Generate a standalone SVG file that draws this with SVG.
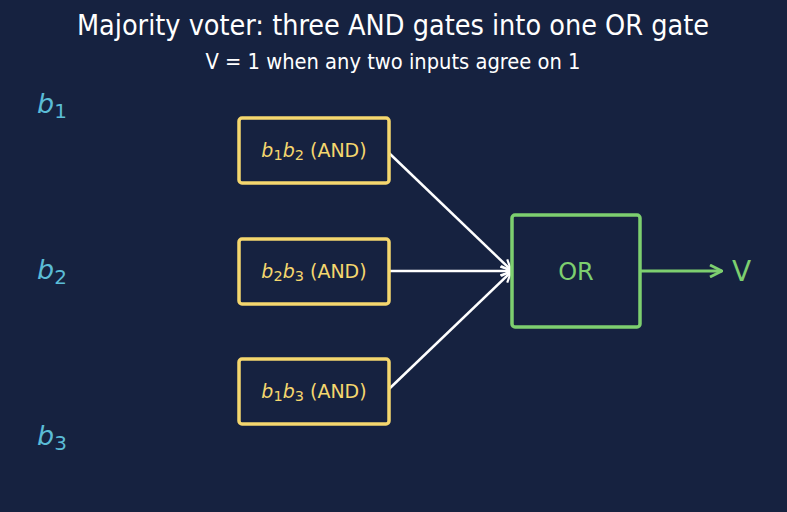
<svg xmlns="http://www.w3.org/2000/svg" width="787" height="512" viewBox="0 0 787 512">
<style>
text{font-family:"DejaVu Sans","Liberation Sans",sans-serif}
.t{fill:#ffffff;text-anchor:middle;font-family:"DejaVu Sans Condensed","DejaVu Sans",sans-serif}
.in{fill:#5bbcd6;font-size:27px;font-style:italic}
.in tspan.s{font-style:normal;font-size:20px}
.and rect{fill:none;stroke:#f5d76e;stroke-width:3.5}
.and text{fill:#f5d76e;font-size:19px;text-anchor:middle}
.it{font-style:italic}
.sub{font-size:14.5px}
.c{stroke:#ffffff;stroke-width:2.5;fill:none}
</style>
<defs>
<marker id="aw" viewBox="0 0 12 12" refX="11" refY="6" markerWidth="12" markerHeight="12" markerUnits="userSpaceOnUse" orient="auto"><path d="M1,1 L11,6 L1,11" fill="none" stroke="#ffffff" stroke-width="2.2"/></marker>
<marker id="ag" viewBox="0 0 14 14" refX="13" refY="7" markerWidth="14" markerHeight="14" markerUnits="userSpaceOnUse" orient="auto"><path d="M1,1 L13,7 L1,13" fill="none" stroke="#7dcf6f" stroke-width="2.8"/></marker>
</defs>
<rect width="787" height="512" fill="#162240"/>
<text class="t" x="393" y="35" font-size="28.5">Majority voter: three AND gates into one OR gate</text>
<text class="t" x="393" y="69" font-size="21.7">V = 1 when any two inputs agree on 1</text>
<g id="in_b1"><text class="in" x="37" y="113">b<tspan class="s" dy="5">1</tspan></text></g>
<g id="in_b2"><text class="in" x="37" y="279">b<tspan class="s" dy="5">2</tspan></text></g>
<g id="in_b3"><text class="in" x="37" y="445">b<tspan class="s" dy="5">3</tspan></text></g>
<g id="connectors">
<line class="c" x1="389" y1="153" x2="511" y2="270" marker-end="url(#aw)"/>
<line class="c" x1="389" y1="271" x2="511" y2="271" marker-end="url(#aw)"/>
<line class="c" x1="389" y1="389" x2="511" y2="272" marker-end="url(#aw)"/>
<line x1="641" y1="271" x2="722" y2="271" stroke="#7dcf6f" stroke-width="3" marker-end="url(#ag)"/>
</g>
<g id="and12" class="and"><rect x="239" y="118" width="150" height="65" rx="3"/><text x="314" y="157"><tspan class="it">b</tspan><tspan class="sub" dy="3">1</tspan><tspan class="it" dy="-3">b</tspan><tspan class="sub" dy="3">2</tspan><tspan dy="-3"> (AND)</tspan></text></g>
<g id="and23" class="and"><rect x="239" y="239" width="150" height="65" rx="3"/><text x="314" y="278"><tspan class="it">b</tspan><tspan class="sub" dy="3">2</tspan><tspan class="it" dy="-3">b</tspan><tspan class="sub" dy="3">3</tspan><tspan dy="-3"> (AND)</tspan></text></g>
<g id="and13" class="and"><rect x="239" y="359" width="150" height="65" rx="3"/><text x="314" y="398"><tspan class="it">b</tspan><tspan class="sub" dy="3">1</tspan><tspan class="it" dy="-3">b</tspan><tspan class="sub" dy="3">3</tspan><tspan dy="-3"> (AND)</tspan></text></g>
<g id="or"><rect x="512" y="215" width="128" height="112" rx="3" fill="none" stroke="#7dcf6f" stroke-width="3.5"/><text x="576" y="280" font-size="24" fill="#7dcf6f" text-anchor="middle">OR</text></g>
<g id="out"><text x="732" y="281" font-size="28" fill="#7dcf6f">V</text></g>
</svg>
